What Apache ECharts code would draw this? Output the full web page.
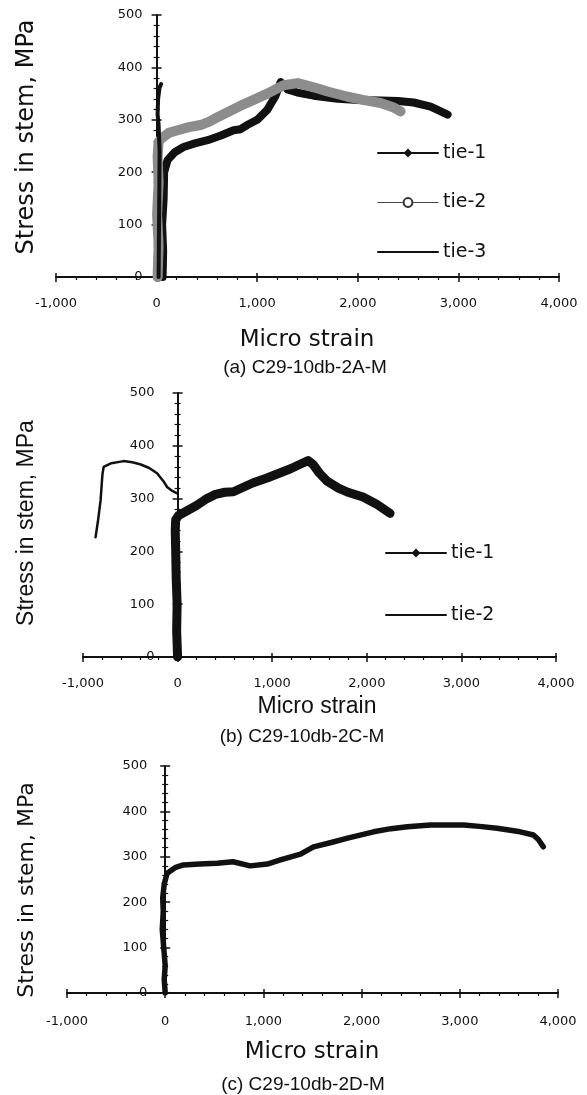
<!DOCTYPE html>
<html>
<head>
<meta charset="utf-8">
<script src="https://cdn.jsdelivr.net/npm/echarts@6/dist/echarts.min.js"></script>
<style>
html,body{margin:0;padding:0;background:#fff;}
#chart{width:587px;height:1095px;}
</style>
</head>
<body>
<div id="chart"></div>
<script>
// ---- tick labels ----
const xTickLabels = ['-1,000', '0', '1,000', '2,000', '3,000', '4,000'];
const yTickLabels = ['0', '100', '200', '300', '400', '500'];
const X_MIN = -1000, X_MAX = 4000, X_STEP = 1000;
const Y_MIN = 0, Y_MAX = 500, Y_STEP = 100;

// ---- panel titles ----
const panelTitles = ['(a) C29-10db-2A-M', '(b) C29-10db-2C-M', '(c) C29-10db-2D-M'];
const xAxisTitle = 'Micro strain';
const yAxisTitle = 'Stress in stem, MPa';

// ---- (a) C29-10db-2A-M : [micro strain, stress MPa] ----
const aTie1 = [[60,0],[65,50],[55,100],[70,150],[75,200],[109,223],[180,238],[268,248],[380,255],[507,261],[640,270],[765,280],[835,282],[900,290],[1000,300],[1100,319],[1180,345],[1233,372],[1300,358],[1400,352],[1561,346],[1800,340],[2000,338],[2227,337],[2400,336],[2555,333],[2724,325],[2893,310]];
const aTie2 = [[10,0],[20,60],[5,120],[20,180],[10,230],[20,258],[50,265],[120,275],[209,280],[320,286],[437,290],[530,297],[606,305],[700,314],[765,320],[870,330],[964,338],[1100,350],[1262,366],[1402,370],[1561,362],[1700,354],[1899,344],[2050,338],[2227,332],[2350,324],[2425,316]];
const aTie3 = [[20,0],[25,120],[30,240],[20,290],[10,310],[15,340],[30,362],[45,368]];

// ---- (b) C29-10db-2C-M ----
const bTie1 = [[0,0],[-10,50],[-5,100],[-15,150],[-20,200],[-25,240],[-20,260],[10,268],[100,277],[200,287],[310,300],[400,308],[500,312],[590,313],[700,322],[800,330],[945,339],[1100,350],[1200,357],[1295,365],[1380,372],[1430,365],[1500,348],[1580,333],[1700,320],[1800,312],[1960,303],[2100,290],[2246,272]];
const bTie2 = [[-867,227],[-840,260],[-814,297],[-795,345],[-782,360],[-700,367],[-570,371],[-480,369],[-396,365],[-300,358],[-217,348],[-150,333],[-111,322],[-60,315],[-5,310]];

// ---- (c) C29-10db-2D-M ----
const cTie1 = [[0,0],[-10,30],[0,60],[-15,100],[-30,140],[-20,180],[-25,210],[-10,240],[20,264],[100,276],[185,282],[350,284],[530,286],[690,289],[866,280],[1040,284],[1173,293],[1378,306],[1510,322],[1700,332],[1857,341],[2122,355],[2300,362],[2466,366],[2700,370],[3040,370],[3200,367],[3380,363],[3615,355],[3750,348],[3800,338],[3850,322]];

const TICK_FONT = 'DejaVu Sans';
const BLACK = '#111';

function xLabel(v) { const i = Math.round((v - X_MIN) / X_STEP); return xTickLabels[i] ?? ''; }
function yLabel(v) { const i = Math.round((v - Y_MIN) / Y_STEP); return yTickLabels[i] ?? ''; }

// panel layouts (pixel boxes of the plotting area)
const panels = [
  { left: 56, top: 15, width: 503, height: 262, xMargin: 20, yMargin: 14 },
  { left: 83, top: 393, width: 473, height: 264, xMargin: 20, yMargin: 23 },
  { left: 67, top: 766, width: 491, height: 227, xMargin: 22, yMargin: 18 }
];

const grids = [], xAxes = [], yAxes = [];
panels.forEach((p, i) => {
  const zeroX = p.left + p.width * (0 - X_MIN) / (X_MAX - X_MIN);
  grids.push({ left: p.left, top: p.top, width: p.width, height: p.height });
  grids.push({ left: zeroX, top: p.top, width: 20, height: p.height });
  const g = i * 2;
  xAxes.push({
    type: 'value', gridIndex: g, position: 'bottom', min: X_MIN, max: X_MAX, interval: X_STEP,
    axisLine: { onZero: false, lineStyle: { color: BLACK, width: 2 } },
    axisTick: { show: true, length: 5, lineStyle: { color: BLACK, width: 1.5 } },
    minorTick: { show: true, splitNumber: 5, length: 3, lineStyle: { color: BLACK, width: 1.2 } },
    axisLabel: { formatter: xLabel, margin: p.xMargin, color: BLACK, fontFamily: TICK_FONT, fontSize: 13 },
    splitLine: { show: false }, minorSplitLine: { show: false }
  });
  xAxes.push({
    type: 'value', gridIndex: g, position: 'bottom', min: X_MIN, max: X_MAX, interval: X_STEP,
    axisLine: { show: false, onZero: false },
    axisTick: { show: true, inside: true, length: 4, lineStyle: { color: BLACK, width: 1.5 } },
    axisLabel: { show: false }, splitLine: { show: false }
  });
  xAxes.push({ type: 'value', gridIndex: g + 1, min: 0, max: 1, show: false });

  yAxes.push({ type: 'value', gridIndex: g, min: Y_MIN, max: Y_MAX, interval: Y_STEP, show: false });
  yAxes.push({
    type: 'value', gridIndex: g + 1, position: 'left', min: Y_MIN, max: Y_MAX, interval: Y_STEP,
    axisLine: { show: true, onZero: false, lineStyle: { color: BLACK, width: 2 } },
    axisTick: { show: true, length: 5, lineStyle: { color: BLACK, width: 1.5 } },
    minorTick: { show: true, splitNumber: 5, length: 3, lineStyle: { color: BLACK, width: 1.2 } },
    axisLabel: { formatter: yLabel, margin: p.yMargin, color: BLACK, fontFamily: TICK_FONT, fontSize: 13 },
    splitLine: { show: false }, minorSplitLine: { show: false }
  });
  yAxes.push({
    type: 'value', gridIndex: g + 1, position: 'left', min: Y_MIN, max: Y_MAX, interval: Y_STEP,
    axisLine: { show: false, onZero: false },
    axisTick: { show: true, inside: true, length: 5, lineStyle: { color: BLACK, width: 1.5 } },
    minorTick: { show: true, splitNumber: 5, length: 3, lineStyle: { color: BLACK, width: 1.2 } },
    axisLabel: { show: false }, splitLine: { show: false }
  });
});

function lineSeries(name, data, panel, color, width, symbol, z) {
  return {
    name: name, type: 'line', xAxisIndex: panel * 3, yAxisIndex: panel * 3, data: data,
    symbol: symbol, showSymbol: false, symbolSize: 6, z: z,
    lineStyle: { color: color, width: width, cap: 'round', join: 'round' },
    itemStyle: { color: color },
    emphasis: { disabled: true }, silent: true
  };
}

function txt(text, x, y, font, size, rotate) {
  return {
    type: 'text', x: x, y: y, rotation: rotate ? Math.PI / 2 : 0, silent: true,
    style: { text: text, fontFamily: font, fontSize: size, fill: BLACK,
      textAlign: 'center', textVerticalAlign: 'middle', align: 'center', verticalAlign: 'middle' }
  };
}

const stripName = n => n.replace(/^[abc]:/, '');

const option = {
  animation: false,
  backgroundColor: '#fff',
  grid: grids,
  xAxis: xAxes,
  yAxis: yAxes,
  legend: [
    {
      orient: 'vertical', left: 372, top: 138, itemWidth: 60, itemHeight: 11, itemGap: 29.5,
      selectedMode: false, formatter: stripName,
      textStyle: { fontFamily: 'DejaVu Sans', fontSize: 19, lineHeight: 20, color: BLACK },
      lineStyle: { width: 2 },
      data: [
        { name: 'a:tie-1', lineStyle: { color: BLACK, width: 2 } },
        { name: 'a:tie-2', lineStyle: { color: '#444', width: 1.2 }, itemStyle: { color: '#333' } },
        { name: 'a:tie-3', lineStyle: { color: BLACK, width: 2 }, itemStyle: { opacity: 0 } }
      ]
    },
    {
      orient: 'vertical', left: 380, top: 538, itemWidth: 60, itemHeight: 11, itemGap: 42,
      selectedMode: false, formatter: stripName,
      textStyle: { fontFamily: 'DejaVu Sans', fontSize: 19, lineHeight: 20, color: BLACK },
      lineStyle: { width: 2 },
      data: [
        { name: 'b:tie-1', lineStyle: { color: BLACK, width: 2 } },
        { name: 'b:tie-2', lineStyle: { color: BLACK, width: 2 }, itemStyle: { opacity: 0 } }
      ]
    }
  ],
  series: [
    lineSeries('a:tie-1', aTie1, 0, BLACK, 8, 'diamond', 2),
    lineSeries('a:tie-2', aTie2, 0, '#8c8c8c', 10, 'emptyCircle', 3),
    lineSeries('a:tie-3', aTie3, 0, BLACK, 4, 'none', 4),
    lineSeries('b:tie-1', bTie1, 1, BLACK, 9, 'diamond', 2),
    lineSeries('b:tie-2', bTie2, 1, BLACK, 2.5, 'none', 3),
    lineSeries('c:tie-1', cTie1, 2, BLACK, 5.5, 'none', 2)
  ],
  graphic: [
    txt(yAxisTitle, 27, 137, 'DejaVu Sans', 24, true),
    txt(xAxisTitle, 307, 340, 'DejaVu Sans', 23, false),
    txt(panelTitles[0], 305, 368, 'Liberation Sans', 19, false),
    txt(yAxisTitle, 27, 523, 'Liberation Sans', 23, true),
    txt(xAxisTitle, 317, 707, 'Liberation Sans', 23, false),
    txt(panelTitles[1], 302, 737, 'Liberation Sans', 19, false),
    txt(yAxisTitle, 27, 890, 'DejaVu Sans', 22, true),
    txt(xAxisTitle, 312, 1052, 'DejaVu Sans', 23, false),
    txt(panelTitles[2], 303, 1085, 'Liberation Sans', 19, false)
  ]
};

const chart = echarts.init(document.getElementById('chart'), null, { renderer: 'canvas' });
chart.setOption(option);
</script>
</body>
</html>
